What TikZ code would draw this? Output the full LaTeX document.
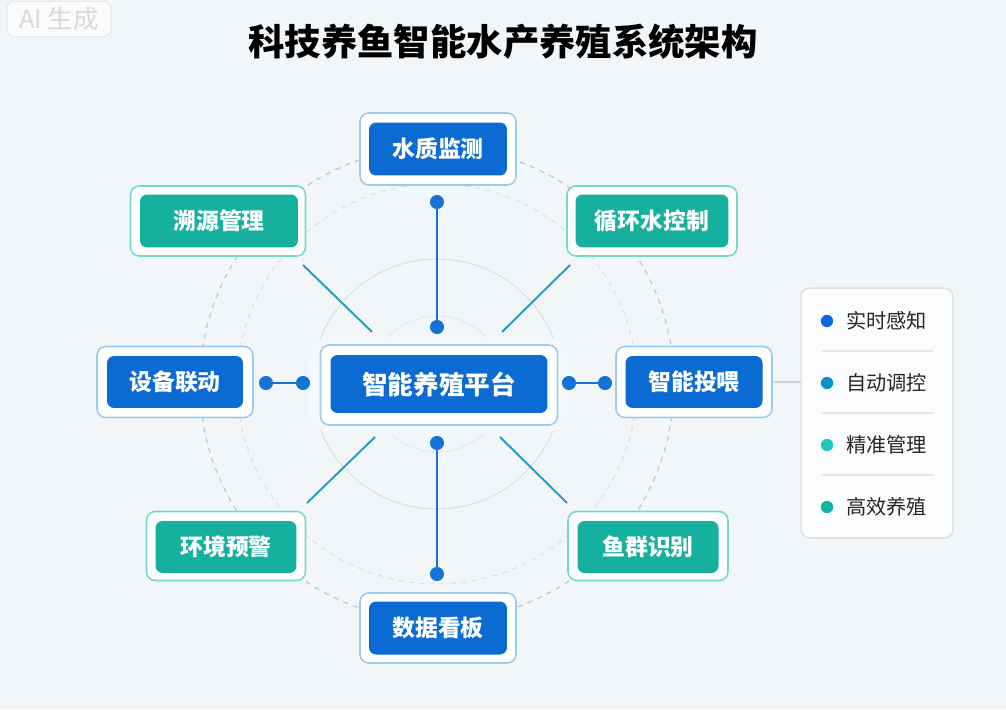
\documentclass[tikz,border=0pt]{standalone}
\usepackage{fontspec}
\setmainfont{Noto Sans CJK SC}
\usetikzlibrary{positioning}
\definecolor{bgcol}{HTML}{F3F6F9}
\definecolor{mainblue}{HTML}{0B6BD3}
\definecolor{mainteal}{HTML}{16B09E}
\definecolor{edgeblue}{HTML}{9CCBEA}
\definecolor{edgeteal}{HTML}{74D9CA}
\definecolor{linkblue}{HTML}{1672D4}
\definecolor{linkteal}{HTML}{1E9FC0}
\definecolor{ringblue}{HTML}{A8CFEA}
\definecolor{ringgray}{HTML}{D8DFE6}
\definecolor{dotA}{HTML}{0A66DA}
\definecolor{dotB}{HTML}{0A90C8}
\definecolor{dotC}{HTML}{1CC6BE}
\definecolor{dotD}{HTML}{12B2A2}
\tikzset{
  outerbox/.style={draw, line width=0.9pt, fill=white, rounded corners=5pt},
  innerbox/.style={rounded corners=4pt, text=white, font=\bfseries\fontsize{13}{15}\selectfont, inner sep=0pt},
  enddot/.style={circle, fill=linkblue, inner sep=0pt, minimum size=8pt},
  link/.style={line width=1.1pt},
  item/.style={font=\fontsize{11.5}{13}\selectfont, text=black!85, anchor=west},
  bullet/.style={circle, inner sep=0pt, minimum size=7pt}
}
\begin{document}
\begin{tikzpicture}[x=0.02cm, y=-0.02cm]
  \useasboundingbox (0,0) rectangle (1006,709);
  \fill[bgcol] (0,0) rectangle (1006,709);

  % watermark
  \node[draw=gray!25, rounded corners=4pt, fill=white!60!bgcol, minimum width=2.08cm, minimum height=0.68cm,
        text=gray!30, font=\fontsize{14.5}{16}\selectfont] (mark) at (59,19) {AI 生成};

  % title
  \node[font=\bfseries\fontsize{20.7}{24}\selectfont] (title) at (503,42) {科技养鱼智能水产养殖系统架构};

  % rings
  \draw[ringblue, dashed, line width=0.7pt] (437,384) circle (237);
  \draw[ringgray, dashed, line width=0.6pt] (437,384) circle (200);
  \draw[ringgray, line width=0.6pt] (437,384) circle (125);
  \draw[ringgray!70, line width=0.6pt] (437,384) circle (68);

  % centre
  \fill[mainblue!5, rounded corners=14pt] (308,337) rectangle (569,433);
  \node[outerbox, draw=edgeblue, minimum width=4.74cm, minimum height=1.6cm] (hub-o) at (439,385) {};
  \node[innerbox, fill=mainblue, minimum width=4.34cm, minimum height=1.16cm,
        font=\bfseries\fontsize{14.6}{17}\selectfont] (hub) at (439,384) {智能养殖平台};

  % modules
  \node[outerbox, draw=edgeblue, minimum width=3.12cm, minimum height=1.44cm] (szjc-o) at (438,149) {};
  \node[innerbox, fill=mainblue, minimum width=2.76cm, minimum height=1.06cm] (szjc) at (438,149) {水质监测};

  \node[outerbox, draw=edgeteal, minimum width=3.4cm, minimum height=1.4cm] (xhs-o) at (652,221) {};
  \node[innerbox, fill=mainteal, minimum width=3.06cm, minimum height=1.06cm] (xhs) at (652,221) {循环水控制};

  \node[outerbox, draw=edgeteal, minimum width=3.5cm, minimum height=1.4cm] (sygl-o) at (218,221) {};
  \node[innerbox, fill=mainteal, minimum width=3.16cm, minimum height=1.06cm] (sygl) at (219,221) {溯源管理};

  \node[outerbox, draw=edgeblue, minimum width=3.12cm, minimum height=1.42cm] (sbld-o) at (175,382) {};
  \node[innerbox, fill=mainblue, minimum width=2.72cm, minimum height=1.04cm] (sbld) at (175,382) {设备联动};

  \node[outerbox, draw=edgeblue, minimum width=3.12cm, minimum height=1.42cm] (zntw-o) at (694,382) {};
  \node[innerbox, fill=mainblue, minimum width=2.74cm, minimum height=1.04cm] (zntw) at (694,382) {智能投喂};

  \node[outerbox, draw=edgeteal, minimum width=3.18cm, minimum height=1.38cm] (hjyj-o) at (226,546) {};
  \node[innerbox, fill=mainteal, minimum width=2.82cm, minimum height=1.04cm] (hjyj) at (226,547) {环境预警};

  \node[outerbox, draw=edgeteal, minimum width=3.2cm, minimum height=1.38cm] (yqsb-o) at (648,546) {};
  \node[innerbox, fill=mainteal, minimum width=2.82cm, minimum height=1.04cm] (yqsb) at (648,547) {鱼群识别};

  \node[outerbox, draw=edgeblue, minimum width=3.12cm, minimum height=1.4cm] (sjkb-o) at (438,628) {};
  \node[innerbox, fill=mainblue, minimum width=2.76cm, minimum height=1.06cm] (sjkb) at (438,628) {数据看板};

  % straight links with dots
  \node[enddot] (top1) at (437,202) {};
  \node[enddot] (top2) at (437,327) {};
  \node[enddot] (bot1) at (437,443) {};
  \node[enddot] (bot2) at (437,574) {};
  \node[enddot] (lft1) at (266,383) {};
  \node[enddot] (lft2) at (303,383) {};
  \node[enddot] (rgt1) at (569,383) {};
  \node[enddot] (rgt2) at (605,383) {};
  \draw[link, linkblue] (top1) -- (top2);
  \draw[link, linkblue] (bot1) -- (bot2);
  \draw[link, linkblue] (lft1) -- (lft2);
  \draw[link, linkblue] (rgt1) -- (rgt2);

  % diagonal links
  \coordinate (nw1) at (303,265); \coordinate (nw2) at (372,332);
  \coordinate (ne1) at (570,265); \coordinate (ne2) at (502,332);
  \coordinate (sw1) at (307,503); \coordinate (sw2) at (375,437);
  \coordinate (se1) at (567,503); \coordinate (se2) at (500,437);
  \draw[link, linkteal] (nw1) -- (nw2);
  \draw[link, linkteal] (ne1) -- (ne2);
  \draw[link, linkteal] (sw1) -- (sw2);
  \draw[link, linkteal] (se1) -- (se2);

  % legend panel
  \node[draw=gray!30, fill=white!70!bgcol, rounded corners=5pt, line width=0.6pt,
        minimum width=3.04cm, minimum height=5.0cm] (panel) at (877,413) {};
  \draw[gray!35, line width=0.6pt] (zntw-o.east) -- (panel.west |- zntw-o.east);

  \node[bullet, fill=dotA] (b1) at (827,321) {};
  \node[item] (t1) at (840,321) {实时感知};
  \node[bullet, fill=dotB] (b2) at (827,383) {};
  \node[item] (t2) at (840,383) {自动调控};
  \node[bullet, fill=dotC] (b3) at (827,445) {};
  \node[item] (t3) at (840,445) {精准管理};
  \node[bullet, fill=dotD] (b4) at (827,507) {};
  \node[item] (t4) at (840,507) {高效养殖};
  \foreach \yy in {351,413,475}
    \draw[gray!20, line width=0.6pt] (822,\yy) -- (933,\yy);
\end{tikzpicture}
\end{document}
